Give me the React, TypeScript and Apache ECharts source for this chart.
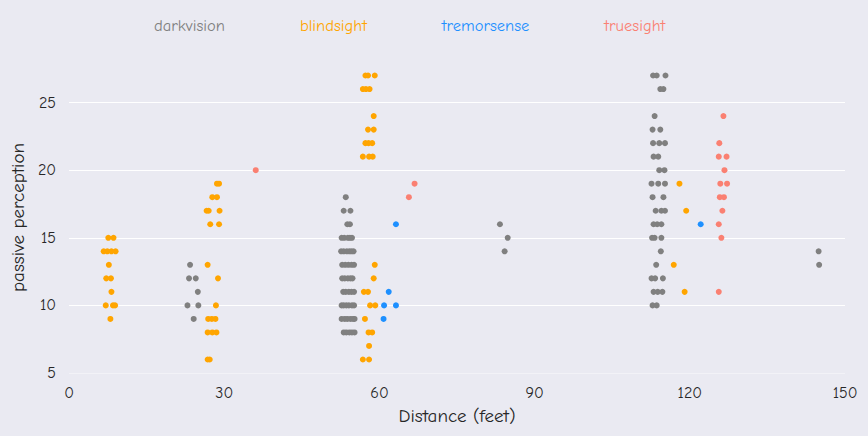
import React, { useEffect, useRef } from 'react'
import * as echarts from 'echarts'

type Point = [number, number]

// [distance (feet, dodged + jittered), passive perception]
const darkvision: Point[] = [
    [23.4, 13], [23.2, 12], [24.5, 12], [24.9, 11], [22.9, 10], [25.0, 10], [24.1, 9],
    [53.5, 18], [53.1, 17], [54.4, 17], [53.8, 16], [54.3, 16],
    [52.7, 15], [53.2, 15], [53.9, 15], [54.3, 15], [54.7, 15],
    [52.6, 14], [53.1, 14], [53.7, 14], [54.2, 14], [54.6, 14], [55.0, 14],
    [52.8, 13], [53.4, 13], [54.0, 13], [54.6, 13], [55.1, 13],
    [52.8, 12], [53.3, 12], [53.9, 12], [54.4, 12], [54.8, 12],
    [53.0, 11], [53.5, 11], [54.1, 11], [54.6, 11], [55.1, 11],
    [52.7, 10], [53.1, 10], [53.6, 10], [54.1, 10], [54.7, 10], [55.1, 10],
    [52.7, 9], [53.3, 9], [53.8, 9], [54.4, 9], [54.9, 9], [55.2, 9],
    [53.1, 8], [53.6, 8], [54.2, 8], [54.7, 8], [55.2, 8],
    [83.3, 16], [84.8, 15], [84.2, 14],
    [112.9, 27], [113.6, 27], [115.3, 27], [114.3, 26], [114.9, 26], [113.2, 24],
    [112.8, 23], [114.3, 23], [112.9, 22], [114.1, 22], [115.2, 22], [113.0, 21], [113.9, 21],
    [114.1, 20], [115.1, 20], [112.6, 19], [113.9, 19], [115.2, 19], [112.8, 18], [114.9, 18],
    [113.4, 17], [114.5, 17], [115.2, 17], [113.0, 16], [113.7, 16], [114.5, 16],
    [112.7, 15], [113.2, 15], [114.5, 15], [114.4, 14], [113.5, 13],
    [112.6, 12], [113.3, 12], [114.8, 12], [113.0, 11], [113.8, 11], [114.7, 11],
    [112.8, 10], [113.6, 10],
    [144.9, 14], [145.0, 13],
]

const blindsight: Point[] = [
    [7.6, 15], [8.6, 15], [6.7, 14], [7.4, 14], [8.2, 14], [9.0, 14], [7.7, 13],
    [7.2, 12], [8.1, 12], [8.2, 11], [7.1, 10], [8.5, 10], [8.9, 10], [8.0, 9],
    [28.6, 19], [29.0, 19], [27.7, 18], [28.6, 18], [26.6, 17], [27.0, 17], [29.1, 17],
    [27.3, 16], [29.0, 16], [26.8, 13], [28.8, 12], [28.4, 10],
    [26.9, 9], [27.6, 9], [28.3, 9], [26.8, 8], [27.7, 8], [28.5, 8], [26.8, 6], [27.2, 6],
    [57.3, 27], [57.8, 27], [59.1, 27], [56.8, 26], [57.4, 26], [58.1, 26], [58.9, 24],
    [57.8, 23], [58.9, 23], [57.3, 22], [57.9, 22], [58.6, 22], [56.8, 21], [58.0, 21], [58.7, 21],
    [59.1, 13], [58.9, 12], [57.0, 11], [57.8, 11], [58.2, 10], [59.2, 10], [57.2, 9],
    [57.9, 8], [58.6, 8], [58.0, 7], [56.8, 6], [58.0, 6],
    [118.0, 19], [119.3, 17], [116.9, 13], [119.0, 11],
]

const tremorsense: Point[] = [
    [63.2, 16], [61.8, 11], [60.9, 10], [63.2, 10], [60.8, 9], [122.1, 16],
]

const truesight: Point[] = [
    [36.1, 20], [66.8, 19], [65.7, 18],
    [126.5, 24], [125.7, 22], [125.6, 21], [127.1, 21], [126.7, 20], [125.9, 19], [127.2, 19],
    [125.8, 18], [126.6, 18], [126.3, 17], [125.6, 16], [126.1, 15], [125.6, 11],
]

const senses = ['darkvision', 'blindsight', 'tremorsense', 'truesight']
const colors = ['#808080', '#FFA500', '#1E90FF', '#FA8072']
const points = [darkvision, blindsight, tremorsense, truesight]

const xTicks = { min: 0, max: 150, interval: 30 }
const yTicks = { min: 5, max: 28, interval: 5 }

const font = "'Comic Sans MS', 'Comic Neue', 'DejaVu Sans', sans-serif"

const App: React.FC = () => {
    const chartRef = useRef<HTMLDivElement>(null)

    useEffect(() => {
        document.body.style.margin = '0'
        const chart = echarts.init(chartRef.current, null, { renderer: 'svg' })

        const option = {
            animation: false,
            backgroundColor: '#EAEAF2',
            textStyle: { fontFamily: font },
            legend: {
                top: 12,
                left: 144,
                icon: 'none',
                itemWidth: 0,
                itemHeight: 0,
                itemGap: 70,
                data: senses.map((name, i) => ({
                    name,
                    textStyle: { color: colors[i], fontSize: 16.5, fontFamily: font },
                })),
            },
            grid: {
                left: 66,
                right: 23,
                top: 62,
                bottom: 63,
            },
            xAxis: {
                type: 'value',
                ...xTicks,
                name: 'Distance (feet)',
                nameLocation: 'middle',
                nameGap: 33,
                nameTextStyle: { fontSize: 19, color: '#262626', fontFamily: font },
                axisLine: { show: false },
                axisTick: { show: false },
                splitLine: { show: false },
                axisLabel: { fontSize: 16, color: '#262626', margin: 12, fontFamily: font },
            },
            yAxis: {
                type: 'value',
                ...yTicks,
                name: 'passive perception',
                nameLocation: 'middle',
                nameGap: 38,
                nameTextStyle: { fontSize: 19, color: '#262626', fontFamily: font },
                axisLine: { show: false },
                axisTick: { show: false },
                axisLabel: { fontSize: 16, color: '#262626', margin: 13, showMaxLabel: false, fontFamily: font },
                splitLine: {
                    show: true,
                    lineStyle: {
                        color: ['#F2F2F7', '#FFFFFF', '#FFFFFF', '#FFFFFF', '#FFFFFF', 'rgba(0,0,0,0)'],
                        width: 1.2,
                    },
                },
            },
            series: senses.map((name, i) => ({
                name,
                type: 'scatter',
                data: points[i],
                symbolSize: 6,
                itemStyle: { color: colors[i], opacity: 1 },
            })),
        }

        chart.setOption(option)

        return () => {
            chart.dispose()
        }
    }, [])

    return <div ref={chartRef} style={{ width: '868px', height: '436px' }} />
}

export default App
